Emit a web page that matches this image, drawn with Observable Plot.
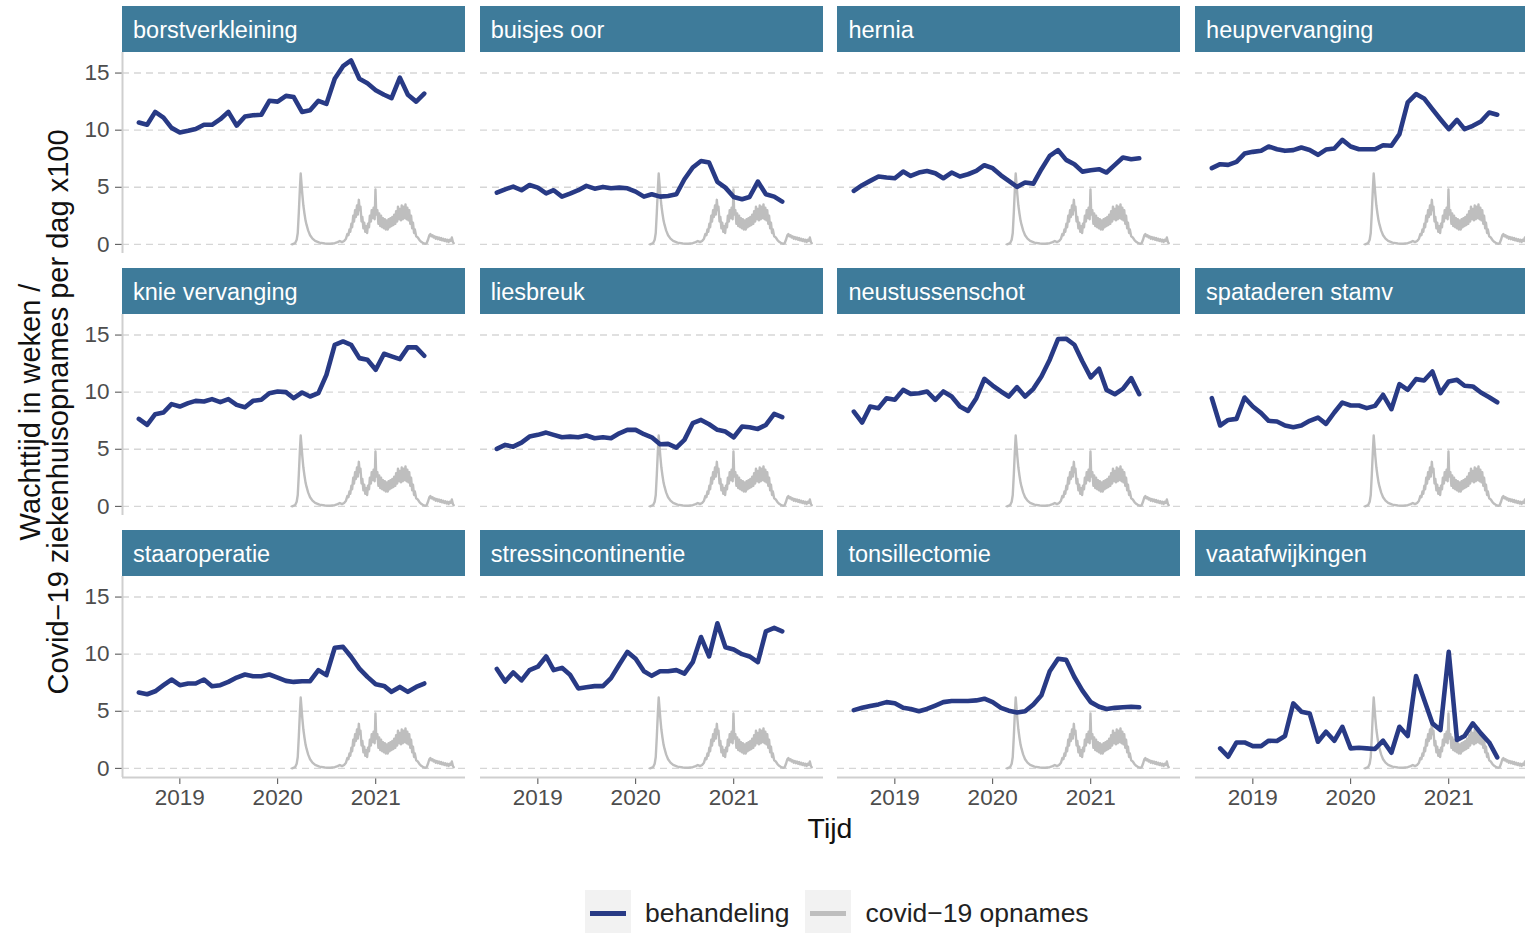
<!DOCTYPE html>
<html><head><meta charset="utf-8">
<script src="https://cdn.jsdelivr.net/npm/d3@7"></script>
<script src="https://cdn.jsdelivr.net/npm/@observablehq/plot@0.6"></script>
<style>
html,body{margin:0;padding:0;background:#fff;overflow:hidden;}
#chart{position:relative;width:1525px;height:933px;overflow:hidden;font-family:"Liberation Sans",Arial,Helvetica,sans-serif;}
.strip{position:absolute;height:45.5px;background:#3e7b9a;color:#fff;font-size:23.5px;line-height:45.5px;padding-left:11px;padding-top:1.5px;box-sizing:border-box;white-space:nowrap;overflow:hidden;}
.panel{position:absolute;}
.panel svg{overflow:visible;max-width:none !important;}
.ytitle{position:absolute;width:760px;left:-336px;top:384px;height:56px;line-height:28px;font-size:29px;text-align:center;transform:rotate(-90deg);transform-origin:50% 50%;color:#111;white-space:nowrap;}
.xtitle{position:absolute;left:730px;width:200px;top:812px;text-align:center;font-size:28.5px;color:#111;}
.legend{position:absolute;top:890px;left:585px;height:46px;display:flex;align-items:center;font-size:26.5px;color:#222;white-space:nowrap;}
.key{width:46px;height:46px;background:#f2f2f2;position:relative;margin-right:14px;flex:none;}
.key span{position:absolute;left:5px;right:5px;top:21px;height:4.6px;}
.lab{margin-right:16px;}
</style></head><body><div id="chart"></div>
<script>
// ---- data ----
const facets = ["borstverkleining","buisjes oor","hernia","heupvervanging",
  "knie vervanging","liesbreuk","neustussenschot","spataderen stamv",
  "staaroperatie","stressincontinentie","tonsillectomie","vaatafwijkingen"];

const months = ["2018-08","2018-09","2018-10","2018-11","2018-12",
  "2019-01","2019-02","2019-03","2019-04","2019-05","2019-06","2019-07","2019-08","2019-09","2019-10","2019-11","2019-12",
  "2020-01","2020-02","2020-03","2020-04","2020-05","2020-06","2020-07","2020-08","2020-09","2020-10","2020-11","2020-12",
  "2021-01","2021-02","2021-03","2021-04","2021-05","2021-06","2021-07"];

const borstverkleining = [10.67,10.47,11.6,11.1,10.2,9.8,9.94,10.1,10.47,10.47,10.96,11.6,10.4,11.2,11.3,11.35,12.57,12.5,13.0,12.9,11.6,11.75,12.57,12.3,14.5,15.6,16.1,14.5,14.1,13.5,13.1,12.8,14.6,13.1,12.5,13.2];
const buisjesOor = [4.53,4.82,5.06,4.74,5.2,4.97,4.47,4.74,4.18,4.44,4.74,5.12,4.88,5.03,4.91,4.97,4.91,4.62,4.18,4.39,4.18,4.24,4.39,5.7,6.73,7.3,7.16,5.47,4.97,4.15,3.95,4.15,5.5,4.39,4.18,3.74];
const hernia = [4.68,5.18,5.56,5.94,5.85,5.79,6.37,5.99,6.29,6.43,6.23,5.79,6.29,5.94,6.14,6.43,6.93,6.67,6.05,5.56,5.03,5.41,5.32,6.58,7.75,8.25,7.4,7.02,6.37,6.49,6.58,6.29,6.96,7.6,7.46,7.54];
const heupvervanging = [6.67,7.02,6.96,7.22,7.95,8.1,8.19,8.57,8.33,8.19,8.25,8.48,8.27,7.84,8.3,8.39,9.15,8.57,8.33,8.33,8.33,8.68,8.63,9.65,12.43,13.16,12.78,11.84,10.96,10.09,10.9,10.09,10.38,10.76,11.55,11.35];
const knieVervanging = [7.66,7.13,8.07,8.22,8.95,8.74,9.04,9.24,9.18,9.39,9.12,9.39,8.89,8.68,9.24,9.33,9.91,10.06,10.0,9.47,9.97,9.62,9.91,11.52,14.15,14.44,14.15,12.98,12.84,11.96,13.36,13.13,12.89,13.92,13.92,13.19];
const liesbreuk = [5.03,5.38,5.23,5.58,6.11,6.26,6.46,6.26,6.05,6.11,6.05,6.2,5.96,6.05,5.96,6.4,6.7,6.7,6.32,6.05,5.44,5.47,5.15,5.82,7.28,7.57,7.19,6.7,6.55,6.05,6.99,6.93,6.78,7.13,8.1,7.81];
const neustussenschot = [8.3,7.34,8.74,8.6,9.47,9.33,10.2,9.85,9.91,10.06,9.33,10.06,9.62,8.74,8.36,9.47,11.17,10.58,10.06,9.62,10.44,9.62,10.29,11.37,12.84,14.65,14.68,14.15,12.69,11.29,12.05,10.2,9.82,10.29,11.23,9.82];
const spataderenStamv = [9.47,7.08,7.57,7.66,9.53,8.74,8.16,7.49,7.43,7.08,6.93,7.08,7.49,7.78,7.22,8.22,9.09,8.83,8.83,8.6,8.8,9.77,8.51,10.7,10.2,11.14,11.02,11.81,9.91,10.94,11.08,10.56,10.5,9.97,9.56,9.12];
const staaroperatie = [6.64,6.49,6.75,7.28,7.78,7.28,7.43,7.43,7.78,7.19,7.28,7.57,7.95,8.22,8.07,8.07,8.22,7.95,7.66,7.57,7.63,7.63,8.6,8.16,10.56,10.64,9.77,8.74,8.01,7.37,7.22,6.7,7.13,6.7,7.13,7.43];
const stressincontinentie = [8.7,7.6,8.4,7.7,8.6,8.9,9.8,8.6,8.8,8.2,7.0,7.1,7.2,7.2,7.9,9.1,10.2,9.6,8.5,8.1,8.5,8.5,8.6,8.3,9.3,11.5,9.8,12.7,10.6,10.4,10.0,9.8,9.3,12.0,12.3,12.0];
const tonsillectomie = [5.1,5.3,5.45,5.6,5.8,5.7,5.3,5.2,5.0,5.2,5.5,5.8,5.9,5.9,5.9,5.95,6.1,5.8,5.3,5.05,4.9,5.0,5.6,6.4,8.5,9.6,9.5,8.0,6.8,5.8,5.4,5.2,5.3,5.35,5.4,5.35];
const vaatafwijkingen = [1.75,1.02,2.27,2.27,1.95,1.95,2.42,2.39,2.83,5.69,4.96,4.81,2.33,3.21,2.42,3.64,1.75,1.8,1.75,1.7,2.42,1.37,3.64,2.83,8.08,6.04,3.94,3.35,10.2,2.48,2.83,3.94,3.06,2.27,0.96];
const seriesStart = [0,0,0,0,0,0,0,0,0,0,0,1]; // month index where each series begins
const series = [borstverkleining,buisjesOor,hernia,heupvervanging,knieVervanging,liesbreuk,
  neustussenschot,spataderenStamv,staaroperatie,stressincontinentie,tonsillectomie,vaatafwijkingen];

const covidDates = ["2020-02-24","2020-03-06","2020-03-12","2020-03-16","2020-03-20","2020-03-24","2020-03-27","2020-03-30",
 "2020-04-02","2020-04-06","2020-04-10","2020-04-14","2020-04-18","2020-04-24","2020-05-01","2020-05-10","2020-05-20",
 "2020-06-05","2020-06-25","2020-07-15","2020-08-01","2020-08-12","2020-08-20","2020-08-28","2020-09-05","2020-09-12",
 "2020-09-17","2020-09-21","2020-09-25","2020-09-28","2020-10-02","2020-10-05","2020-10-09","2020-10-12","2020-10-16",
 "2020-10-19","2020-10-23","2020-10-26","2020-10-30","2020-11-02","2020-11-05","2020-11-09","2020-11-12","2020-11-16",
 "2020-11-19","2020-11-23","2020-11-26","2020-11-30","2020-12-03","2020-12-07","2020-12-10","2020-12-14","2020-12-17",
 "2020-12-21","2020-12-24","2020-12-28","2020-12-31","2021-01-03","2021-01-07","2021-01-11","2021-01-14","2021-01-18",
 "2021-01-21","2021-01-25","2021-01-28","2021-02-01","2021-02-04","2021-02-08","2021-02-11","2021-02-15","2021-02-18",
 "2021-02-22","2021-02-25","2021-03-01","2021-03-04","2021-03-08","2021-03-11","2021-03-15","2021-03-18","2021-03-22",
 "2021-03-25","2021-03-29","2021-04-01","2021-04-05","2021-04-08","2021-04-12","2021-04-15","2021-04-19","2021-04-22",
 "2021-04-26","2021-04-29","2021-05-03","2021-05-06","2021-05-10","2021-05-13","2021-05-17","2021-05-20","2021-05-24",
 "2021-05-27","2021-06-01","2021-06-07","2021-06-14","2021-06-21","2021-06-28","2021-07-05","2021-07-10","2021-07-15",
 "2021-07-20","2021-07-24","2021-07-28","2021-08-01","2021-08-05","2021-08-09","2021-08-13","2021-08-17","2021-08-21",
 "2021-08-25","2021-08-29","2021-09-02","2021-09-06","2021-09-10","2021-09-14","2021-09-18","2021-09-22","2021-09-26",
 "2021-09-30","2021-10-04","2021-10-08","2021-10-12","2021-10-16","2021-10-19"];
const covidValues = [0,0.1,0.4,1.0,2.8,4.9,6.2,5.3,
 4.4,3.4,2.7,2.1,1.7,1.2,0.8,0.5,0.3,
 0.15,0.08,0.05,0.1,0.2,0.3,0.2,0.3,0.5,
 0.9,0.8,1.3,1.1,1.8,1.5,2.5,2.0,3.0,
 2.4,3.4,2.6,3.9,3.0,3.3,2.0,2.4,1.4,
 1.9,1.1,1.6,1.0,1.8,1.5,2.5,2.0,3.0,
 2.3,3.2,2.2,4.8,2.6,3.0,1.8,2.7,1.6,
 2.5,1.5,2.3,1.4,2.2,1.3,2.1,1.3,2.2,
 1.5,2.3,1.6,2.4,1.7,2.6,1.8,2.9,2.0,
 3.3,2.2,3.1,2.1,3.4,2.2,3.3,2.3,3.5,
 2.2,3.2,2.1,3.0,1.8,2.5,1.4,1.9,1.0,
 1.3,0.7,0.6,0.35,0.2,0.1,0.05,0.1,0.4,
 0.8,0.9,0.7,0.8,0.6,0.7,0.5,0.65,0.45,
 0.6,0.4,0.55,0.35,0.5,0.3,0.45,0.25,0.4,
 0.2,0.4,0.3,0.6,0.2,0.1];

const yTicks = [0,5,10,15];
const xTickLabels = ["2019-01-01","2020-01-01","2021-01-01"];
const xDomainDates = ["2018-06-01","2021-12-02"];
const yDomain = [-0.8,16.8];
const legendLabels = ["behandeling","covid\u221219 opnames"];
const yTitle = ["Wachttijd in weken /","Covid\u221219 ziekenhuisopnames per dag x100"];
const xTitle = "Tijd";

// ---- build ----
const BLUE = "#283a85", GREY = "#bebebe";
const chart = document.getElementById("chart");
const covid = covidDates.map((d,i)=>({date:new Date(d), value:covidValues[i]}));
const xDomain = xDomainDates.map(d=>new Date(d));
const xTicks = xTickLabels.map(d=>new Date(d));
const W = 343, H = 201, colStep = 357.7, rowStep = 262, stripH = 45.5, firstStrip = 6, firstCol = 122;

facets.forEach((name, k) => {
  const col = k % 4, row = Math.floor(k / 4);
  const left = firstCol + col*colStep, stripTop = firstStrip + row*rowStep, top = stripTop + stripH;
  const s = document.createElement("div");
  s.className = "strip";
  s.style.left = left+"px"; s.style.top = stripTop+"px"; s.style.width = W+"px";
  s.textContent = name;
  chart.appendChild(s);

  const data = series[k].map((v,i)=>({date:new Date(months[seriesStart[k]+i]+"-01"), value:v}));
  const isLeft = col===0, isBottom = row===2;
  const mL = isLeft?60:0, mB = isBottom?50:0;
  const marks = [
    Plot.ruleY(yTicks, {stroke:"#d6d6d6", strokeWidth:1.4, strokeDasharray:"7,5"}),
    Plot.line(covid, {x:"date", y:"value", stroke:GREY, strokeWidth:2.4}),
    Plot.line(data, {x:"date", y:"value", stroke:BLUE, strokeWidth:4.6, strokeLinejoin:"round"})
  ];
  if (isLeft) marks.push(Plot.ruleX([xDomain[0]], {stroke:"#cfcfcf", strokeWidth:2}));
  if (isBottom) marks.push(Plot.ruleY([yDomain[0]], {stroke:"#cfcfcf", strokeWidth:2}));
  const svg = Plot.plot({
    width: W+mL, height: H+mB,
    marginLeft: mL, marginRight: 0, marginTop: 0, marginBottom: mB,
    x: {type:"utc", domain:xDomain, ticks:xTicks, tickFormat:"%Y", tickSize:7, tickPadding:5, axis: isBottom?"bottom":null, label:null},
    y: {domain:yDomain, ticks:yTicks, tickSize:7, tickPadding:6, axis: isLeft?"left":null, label:null},
    marks,
    style:{fontFamily:'"Liberation Sans",Arial,sans-serif', fontSize:"22.5px", color:"#4d4d4d", background:"transparent", overflow:"visible", maxWidth:"none"}
  });
  const wrap = document.createElement("div");
  wrap.className = "panel";
  wrap.style.left = (left-mL)+"px"; wrap.style.top = top+"px";
  wrap.style.width = (W+mL)+"px"; wrap.style.height = (H+mB)+"px";
  wrap.appendChild(svg);
  chart.appendChild(wrap);
});

const yt = document.createElement("div");
yt.className = "ytitle";
yt.innerHTML = yTitle.map(t=>`<div>${t}</div>`).join("");
chart.appendChild(yt);

const xt = document.createElement("div");
xt.className = "xtitle"; xt.textContent = xTitle;
chart.appendChild(xt);

const lg = document.createElement("div");
lg.className = "legend";
[BLUE, GREY].forEach((c,i)=>{
  const key = document.createElement("div"); key.className="key";
  const ln = document.createElement("span"); ln.style.background = c; key.appendChild(ln);
  const lab = document.createElement("div"); lab.className="lab"; lab.textContent = legendLabels[i];
  lg.appendChild(key); lg.appendChild(lab);
});
chart.appendChild(lg);
</script></body></html>
